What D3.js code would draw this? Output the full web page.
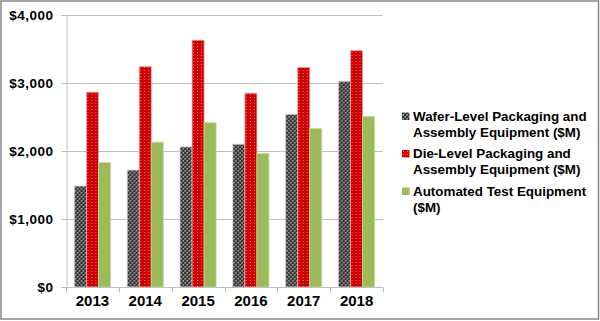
<!DOCTYPE html>
<html>
<head>
<meta charset="utf-8">
<script src="https://cdn.jsdelivr.net/npm/d3@7/dist/d3.min.js"></script>
<style>
  html, body { margin: 0; padding: 0; background: #fff; }
  svg { display: block; font-family: "Liberation Sans", Arial, sans-serif; }
</style>
</head>
<body>
<svg id="chart" width="600" height="321"></svg>
<script>
// Equipment market by year ($M)
const years = ["2013", "2014", "2015", "2016", "2017", "2018"];
const seriesNames = ["wafer", "die", "ate"];
const waferLevel = [1485, 1720, 2060, 2100, 2540, 3025];
const dieLevel   = [2865, 3240, 3630, 2850, 3230, 3475];
const testEquip  = [1830, 2130, 2415, 1965, 2330, 2510];
const legendLines = [
  ["Wafer-Level Packaging and", "Assembly Equipment ($M)"],
  ["Die-Level Packaging and", "Assembly Equipment ($M)"],
  ["Automated Test Equipment", "($M)"]
];
const yTicks = [0, 1000, 2000, 3000, 4000];

const values = [waferLevel, dieLevel, testEquip];

const svg = d3.select("#chart");
const defs = svg.append("defs");

// checker fill for wafer-level series
const pg = defs.append("pattern").attr("id", "patGray")
  .attr("patternUnits", "userSpaceOnUse").attr("width", 4).attr("height", 4);
pg.append("rect").attr("width", 4).attr("height", 4).attr("fill", "#6e6e6e");
pg.append("rect").attr("x", 0).attr("y", 0).attr("width", 2).attr("height", 2).attr("fill", "#333333");
pg.append("rect").attr("x", 2).attr("y", 2).attr("width", 2).attr("height", 2).attr("fill", "#333333");
pg.append("rect").attr("x", 3).attr("y", 0).attr("width", 1).attr("height", 1).attr("fill", "#a8a8a8");
pg.append("rect").attr("x", 1).attr("y", 2).attr("width", 1).attr("height", 1).attr("fill", "#a8a8a8");

// dotted fill for die-level series
const pr = defs.append("pattern").attr("id", "patRed")
  .attr("patternUnits", "userSpaceOnUse").attr("width", 4).attr("height", 3);
pr.append("rect").attr("width", 4).attr("height", 3).attr("fill", "#cc0000");
pr.append("rect").attr("x", 1).attr("y", 1).attr("width", 1).attr("height", 1).attr("fill", "#f07070");

const fills = ["url(#patGray)", "url(#patRed)", "#9bbb59"];
const strokes = ["#c8c8c8", "#f3a5a5", "#c4d99c"];

const x0 = d3.scaleBand().domain(years).range([66, 383])
  .paddingInner(0.318).paddingOuter(0.159);
const x1 = d3.scaleBand().domain(seriesNames).range([0, x0.bandwidth()]);
const y = d3.scaleLinear().domain([0, 4000]).range([287, 15]);

// outer frame
svg.append("rect").attr("x", 1).attr("y", 1).attr("width", 597.5).attr("height", 318)
  .attr("fill", "#fff").attr("stroke", "#868686").attr("stroke-width", 1.5);

// gridlines
svg.append("g").selectAll("line").data(yTicks.filter(d => d > 0)).join("line")
  .attr("x1", 66).attr("x2", 383)
  .attr("y1", d => Math.round(y(d)) + 0.5).attr("y2", d => Math.round(y(d)) + 0.5)
  .attr("stroke", "#bfbfbf").attr("stroke-width", 1);

// y axis
const yAxis = d3.axisLeft(y).tickValues(yTicks).tickSize(5).tickPadding(8)
  .tickFormat(d => "$" + d3.format(",")(d));
const gy = svg.append("g").attr("transform", "translate(66.5,0)").call(yAxis);
gy.select(".domain").attr("stroke", "#bfbfbf");
gy.selectAll(".tick line").attr("stroke", "#bfbfbf");
gy.selectAll(".tick text").attr("fill", "#000").style("font-size", "13.5px")
  .style("font-weight", "bold").style("letter-spacing", "0.5px");

// bars
const groups = svg.append("g").selectAll("g").data(years).join("g")
  .attr("transform", d => `translate(${x0(d)},0)`);
groups.selectAll("rect").data((d, i) => seriesNames.map((s, k) => ({ s, k, v: values[k][i] })))
  .join("rect")
  .attr("x", d => x1(d.s))
  .attr("width", x1.bandwidth())
  .attr("y", d => y(d.v))
  .attr("height", d => y(0) - y(d.v))
  .attr("fill", d => fills[d.k])
  .attr("stroke", d => strokes[d.k])
  .attr("stroke-width", 0.8);

// x axis: baseline with boundary ticks
const gx = svg.append("g").attr("transform", "translate(0,287.5)");
gx.append("line").attr("x1", 66).attr("x2", 383).attr("stroke", "#bfbfbf");
const bounds = years.map(d => x0(d) - x0.step() * x0.paddingOuter()).concat([383]);
gx.selectAll("line.b").data(bounds).join("line").attr("class", "b")
  .attr("x1", d => Math.round(d) + 0.5).attr("x2", d => Math.round(d) + 0.5)
  .attr("y1", 0).attr("y2", 5).attr("stroke", "#bfbfbf");
gx.selectAll("text").data(years).join("text")
  .attr("x", d => x0(d) + x0.bandwidth() / 2).attr("y", 18)
  .attr("text-anchor", "middle").attr("fill", "#000")
  .style("font-size", "15px").style("font-weight", "bold").text(d => d);

// legend
const lg = svg.append("g").attr("transform", "translate(402,0)");
const entryY = [116, 153.5, 191];
legendLines.forEach((lines, k) => {
  lg.append("rect").attr("x", 0).attr("y", entryY[k] - 3.5).attr("width", 7.5).attr("height", 7.5)
    .attr("fill", fills[k]);
  const t = lg.append("text").attr("x", 11).attr("y", entryY[k] + 4.8)
    .attr("fill", "#000").style("font-size", "13.4px").style("font-weight", "bold");
  lines.forEach((ln, j) => {
    t.append("tspan").attr("x", 11).attr("dy", j === 0 ? 0 : 16).text(ln);
  });
});
</script>
</body>
</html>
